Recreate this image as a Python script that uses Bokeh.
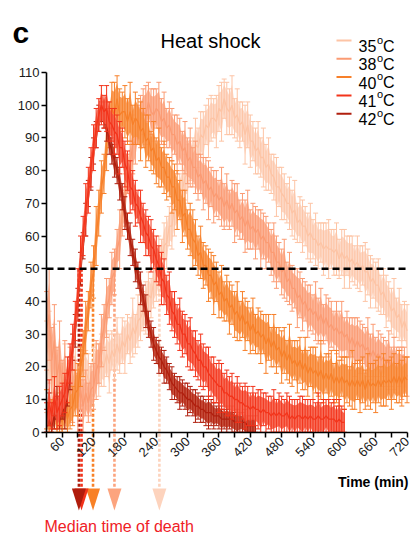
import math
from bokeh.plotting import figure
from bokeh.models import Range1d, FixedTicker, ColumnDataSource, Label
from bokeh.embed import file_html
from bokeh.resources import INLINE

# ---------------- data ----------------
temps = ["35", "38", "40", "41", "42"]

t_35 = list(range(30, 721, 5))
v_35 = [20, 26, 14, 21, 17, 12, 14, 18, 10, 14,
        15, 18, 14, 12, 17, 19, 16, 14, 19, 21,
        18, 22, 20, 24, 21, 25, 23, 27, 24, 28,
        26, 30, 28, 32, 30, 34, 35, 37, 38, 42,
        41, 46, 47, 51, 53, 57, 58, 63, 63, 69,
        69, 73, 74, 78, 79, 83, 83, 88, 87, 91,
        90, 94, 93, 96, 96, 95, 99, 98, 102, 99,
        98, 100, 96, 97, 94, 95, 91, 94, 89, 89,
        86, 87, 84, 84, 81, 82, 79, 78, 75, 75,
        73, 72, 70, 70, 67, 68, 64, 65, 63, 63,
        60, 61, 59, 59, 57, 58, 56, 57, 56, 56,
        55, 56, 53, 55, 53, 54, 52, 53, 51, 52,
        50, 51, 49, 49, 46, 47, 45, 45, 42, 43,
        40, 40, 37, 38, 35, 36, 32, 34, 31]
e_35 = [14, 11, 9, 12, 8, 10, 7, 9, 8, 7,
        8, 9, 7, 8, 7, 6, 8, 6, 7, 6,
        7, 8, 6, 7, 9, 6, 7, 8, 6, 7,
        8, 6, 7, 9, 6, 8, 7, 6, 8, 7,
        6, 8, 7, 9, 6, 7, 8, 6, 7, 9,
        7, 6, 8, 7, 9, 6, 7, 8, 6, 7,
        8, 6, 9, 7, 6, 8, 7, 9, 6, 8,
        7, 9, 6, 8, 7, 6, 9, 7, 8, 6,
        7, 8, 6, 9, 7, 8, 6, 7, 9, 6,
        8, 7, 6, 8, 7, 9, 6, 7, 8, 6,
        7, 9, 6, 8, 7, 6, 8, 7, 9, 6,
        7, 8, 6, 7, 9, 6, 8, 7, 6, 8,
        7, 6, 9, 7, 8, 6, 7, 8, 6, 7,
        8, 6, 7, 9, 6, 8, 7, 6, 8]

t_38 = list(range(30, 721, 5))
v_38 = [31, 36, 22, 28, 17, 22, 14, 18, 12, 17,
        11, 15, 9, 13, 8, 12, 9, 13, 14, 19,
        21, 28, 32, 38, 41, 47, 49, 56, 59, 67,
        71, 79, 82, 88, 89, 94, 95, 98, 97, 101,
        98, 97, 99, 98, 95, 96, 93, 94, 91, 91,
        88, 89, 86, 87, 83, 84, 81, 81, 78, 79,
        76, 77, 74, 75, 72, 73, 71, 72, 69, 71,
        68, 70, 67, 68, 65, 66, 63, 65, 62, 63,
        61, 62, 59, 60, 58, 58, 55, 55, 52, 52,
        49, 50, 46, 47, 44, 44, 41, 42, 39, 40,
        37, 38, 36, 37, 34, 36, 33, 35, 32, 33,
        31, 32, 30, 31, 29, 30, 27, 29, 26, 28,
        26, 27, 25, 26, 23, 25, 23, 24, 22, 23,
        21, 22, 20, 21, 19, 20, 18, 19, 17]
e_38 = [12, 14, 10, 11, 9, 12, 8, 10, 7, 9,
        8, 7, 9, 6, 8, 7, 6, 8, 7, 9,
        6, 8, 7, 9, 6, 8, 7, 6, 9, 7,
        8, 6, 7, 9, 7, 6, 8, 7, 9, 6,
        7, 8, 6, 9, 7, 8, 6, 7, 8, 6,
        9, 7, 6, 8, 7, 9, 6, 8, 7, 6,
        8, 7, 9, 6, 8, 7, 6, 9, 7, 8,
        6, 7, 9, 8, 6, 7, 8, 9, 6, 7,
        8, 6, 9, 7, 8, 6, 7, 9, 8, 6,
        7, 9, 6, 8, 7, 6, 9, 7, 8, 6,
        8, 7, 6, 9, 7, 8, 6, 7, 9, 7,
        6, 8, 7, 9, 6, 7, 8, 6, 9, 7,
        8, 6, 7, 9, 7, 8, 6, 7, 8, 6,
        7, 9, 6, 8, 7, 6, 8, 7, 6]

t_40 = list(range(30, 721, 5))
v_40 = [7, 2, 5, 9, 3, 6, 3, 8, 4, 7,
        8, 12, 13, 20, 24, 32, 37, 45, 49, 60,
        67, 75, 79, 89, 94, 99, 97, 102, 97, 98,
        98, 95, 98, 94, 96, 95, 92, 93, 89, 90,
        86, 87, 83, 84, 81, 81, 78, 78, 75, 75,
        71, 71, 66, 67, 62, 62, 59, 58, 54, 55,
        51, 51, 48, 48, 45, 46, 42, 43, 40, 41,
        38, 39, 36, 37, 34, 36, 33, 34, 31, 33,
        30, 31, 29, 30, 27, 29, 26, 28, 25, 26,
        23, 25, 22, 24, 21, 22, 20, 22, 19, 21,
        18, 20, 18, 19, 17, 19, 16, 18, 16, 18,
        15, 17, 15, 17, 15, 16, 14, 16, 14, 16,
        14, 16, 13, 16, 14, 15, 14, 16, 14, 16,
        15, 16, 15, 17, 15, 17, 15, 17, 16]
e_40 = [6, 4, 5, 8, 4, 6, 5, 7, 5, 6,
        6, 7, 8, 6, 7, 8, 6, 7, 8, 9,
        7, 8, 6, 9, 7, 8, 10, 7, 8, 6,
        8, 7, 9, 6, 8, 7, 9, 6, 8, 7,
        6, 8, 7, 9, 6, 8, 7, 6, 8, 7,
        9, 6, 8, 7, 6, 8, 9, 7, 6, 8,
        7, 6, 8, 7, 9, 6, 7, 8, 6, 7,
        8, 6, 7, 9, 6, 7, 8, 6, 7, 8,
        6, 7, 8, 6, 9, 7, 6, 8, 7, 6,
        8, 7, 6, 9, 7, 6, 8, 7, 6, 8,
        7, 6, 8, 7, 6, 9, 7, 6, 8, 7,
        6, 8, 7, 6, 8, 7, 6, 9, 7, 6,
        8, 7, 6, 8, 7, 6, 8, 7, 6, 8,
        7, 6, 8, 7, 6, 8, 7, 6, 7]

t_41 = list(range(30, 601, 5))
v_41 = [4, 9, 5, 11, 6, 8, 10, 12, 16, 21,
        26, 34, 42, 53, 60, 68, 74, 81, 87, 93,
        97, 100, 98, 99, 95, 94, 92, 91, 87, 87,
        82, 80, 75, 74, 70, 69, 66, 64, 61, 60,
        57, 56, 53, 51, 47, 46, 42, 41, 37, 36,
        33, 33, 30, 30, 27, 27, 25, 24, 22, 22,
        20, 20, 18, 17, 16, 15, 14, 14, 12, 12,
        11, 11, 10, 10, 9, 9, 8, 8, 7, 8,
        7, 7, 6, 7, 6, 6, 5, 6, 5, 6,
        5, 5, 6, 4, 5, 4, 5, 5, 4, 5,
        4, 5, 4, 4, 5, 4, 4, 5, 4, 4,
        4, 3, 4, 3, 3]
e_41 = [5, 7, 4, 6, 5, 6, 5, 6, 7, 6,
        7, 6, 8, 7, 6, 8, 7, 6, 7, 6,
        5, 6, 5, 7, 6, 5, 7, 6, 8, 6,
        7, 6, 8, 6, 7, 5, 8, 6, 7, 6,
        8, 6, 7, 6, 8, 7, 6, 8, 6, 7,
        6, 8, 7, 6, 7, 8, 6, 7, 6, 8,
        7, 6, 8, 6, 7, 6, 8, 7, 6, 7,
        6, 7, 5, 7, 6, 5, 7, 6, 5, 6,
        5, 6, 7, 5, 6, 5, 6, 7, 5, 6,
        6, 5, 6, 7, 5, 6, 5, 6, 7, 5,
        6, 5, 6, 5, 7, 5, 6, 5, 6, 5,
        6, 5, 6, 5, 4]

t_42 = list(range(30, 431, 5))
v_42 = [3, 7, 2, 5, 9, 4, 8, 6, 12, 18,
        26, 31, 40, 50, 57, 65, 73, 79, 86, 91,
        96, 98, 97, 94, 89, 86, 83, 80, 76, 72,
        67, 63, 59, 55, 51, 48, 44, 41, 37, 33,
        30, 27, 25, 23, 22, 20, 19, 17, 15, 14,
        13, 12, 12, 11, 10, 10, 9, 8, 8, 7,
        7, 6, 6, 6, 5, 5, 5, 4, 4, 4,
        4, 4, 3, 3, 3, 3, 3, 2, 2, 2,
        2]
e_42 = [4, 5, 3, 4, 5, 3, 4, 5, 4, 5,
        4, 5, 4, 5, 4, 5, 4, 5, 4, 4,
        4, 3, 4, 5, 4, 4, 5, 4, 5, 4,
        5, 4, 5, 4, 5, 4, 5, 4, 5, 4,
        4, 5, 4, 5, 4, 5, 4, 4, 5, 4,
        4, 5, 4, 4, 5, 4, 4, 5, 4, 4,
        4, 4, 5, 4, 4, 3, 4, 4, 3, 4,
        3, 4, 3, 4, 3, 3, 4, 3, 3, 3,
        3]

median_death = [246, 160, 119, 97, 92]   # minutes, per temperature
threshold = 50
y_ticks = [0, 10, 20, 30, 40, 50, 60, 70, 80, 90, 100, 110]
x_ticks = list(range(30, 721, 30))
x_labelled = list(range(60, 721, 60))

# ---------------- styling ----------------
line_col = {"35": "#fdc4a5", "38": "#fb9b73", "40": "#f7802a", "41": "#f3341b", "42": "#b01f0e"}
band_col = {"35": "#fdd6c2", "38": "#fcae8e", "40": "#f9964d", "41": "#f6604a", "42": "#c13f2a"}
tri_col = {"35": "#fdd3bd", "38": "#fca47e", "40": "#f88126", "41": "#f3321a", "42": "#b01c0c"}
FONT = "Liberation Sans"

W, H = 415, 535
PX_PER_MIN = 0.5225
X_LO = 60 - 61.7 / PX_PER_MIN
X_HI = 60 + (W - 61.7) / PX_PER_MIN
Y_HI = 431.7 / 3.27
Y_LO = (431.7 - H) / 3.27


def dx(px):  # page pixel -> data x (annotation placement only)
    return X_LO + px / W * (X_HI - X_LO)


def dy(py):  # page pixel -> data y (annotation placement only)
    return Y_HI - py / H * (Y_HI - Y_LO)


p = figure(width=W, height=H, output_backend="svg", toolbar_location=None,
           x_range=Range1d(X_LO, X_HI), y_range=Range1d(Y_LO, Y_HI),
           min_border=0, tools="")
p.outline_line_color = None
p.grid.visible = False
p.background_fill_color = "white"

p.xaxis.fixed_location = 0
p.yaxis.fixed_location = 30
p.xaxis.bounds = (30, 720)
p.yaxis.bounds = (0, 110)
for ax in (p.xaxis, p.yaxis):
    ax.axis_line_width = 1.6
    ax.axis_line_color = "black"
    ax.major_tick_line_width = 1.5
    ax.major_tick_out = 5
    ax.major_tick_in = 0
    ax.minor_tick_out = 0
    ax.minor_tick_in = 0
    ax.major_label_text_font = FONT
    ax.major_label_text_font_size = "13px"
    ax.major_label_text_color = "#1a1a1a"
    ax.major_label_standoff = 2
p.yaxis.ticker = FixedTicker(ticks=y_ticks)
p.xaxis.ticker = FixedTicker(ticks=x_ticks)
p.xaxis.major_label_overrides = {t: ("" if t not in x_labelled else str(t)) for t in x_ticks}
p.xaxis.major_label_orientation = math.pi / 4

# median-death dotted guide lines (under the curves)
tri_top, tri_bot = dy(488), dy(510)
for k, m in zip(temps, median_death):
    p.segment(x0=[m], y0=[threshold], x1=[m], y1=[tri_top], line_color=tri_col[k],
              line_width=2.6, line_dash="3 2")

series = {"35": (t_35, v_35, e_35), "38": (t_38, v_38, e_38), "40": (t_40, v_40, e_40),
          "42": (t_42, v_42, e_42), "41": (t_41, v_41, e_41)}
for k in ["35", "38", "40", "42", "41"]:
    t, v, e = series[k]
    hi = [a + b for a, b in zip(v, e)]
    lo = [max(a - b, 0) for a, b in zip(v, e)]
    bhi = [a + 0.7 * b for a, b in zip(v, e)]
    blo = [max(a - 0.7 * b, 0) for a, b in zip(v, e)]
    src = ColumnDataSource(dict(t=t, v=v, hi=hi, lo=lo, bhi=bhi, blo=blo))
    p.varea(x="t", y1="blo", y2="bhi", source=src, fill_color=band_col[k], fill_alpha=0.92)
    p.segment(x0="t", y0="lo", x1="t", y1="hi", source=src, line_color=line_col[k], line_width=1)
    p.scatter(x="t", y="hi", source=src, marker="dash", size=5, line_color=line_col[k], line_width=1)
    p.scatter(x="t", y="lo", source=src, marker="dash", size=5, line_color=line_col[k], line_width=1)
    p.line(x="t", y="v", source=src, line_color=line_col[k], line_width=1.3)

# 50 % threshold
p.segment(x0=[30], y0=[threshold], x1=[720], y1=[threshold], line_color="black",
          line_width=2.6, line_dash="7 4")

# median-death triangles
hw = 7 / PX_PER_MIN
p.patches(xs=[[m - hw, m + hw, m] for m in median_death],
          ys=[[tri_top, tri_top, tri_bot] for _ in median_death],
          fill_color=[tri_col[k] for k in temps], line_color=None)


def lab(x, y, text, size, align="left", bold=False, color="black"):
    p.add_layout(Label(x=dx(x), y=dy(y), text=text, text_font=FONT,
                       text_font_size=f"{size}px", text_align=align,
                       text_baseline="alphabetic", text_color=color,
                       text_font_style="bold" if bold else "normal"))


lab(12, 32, "c", 30, bold=True)
lab(210, 40.5, "Heat shock", 20, align="center")
lab(408, 481.5, "Time (min)", 14, align="right", bold=True)
lab(44, 526, "Median time of death", 16, color="#ef2126")

for i, k in enumerate(temps):
    yy = 40 + 18.3 * i
    p.segment(x0=[dx(336)], y0=[dy(yy)], x1=[dx(351)], y1=[dy(yy)],
              line_color=line_col[k], line_width=2)
    lab(358, yy + 5.5, k, 16)
    lab(376.5, yy - 1, "o", 11)
    lab(382.5, yy + 5.5, "C", 16)

open("out.html", "w").write(file_html(p, INLINE))
